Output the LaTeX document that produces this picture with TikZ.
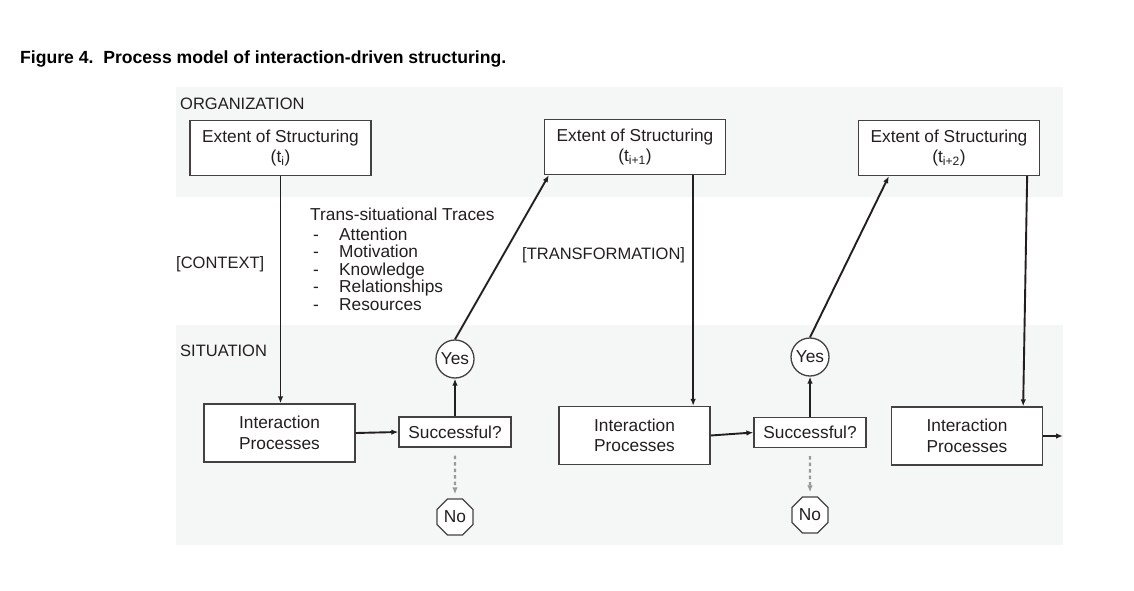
\documentclass[tikz,border=0pt]{standalone}
\usepackage{fontspec}
\setmainfont{Liberation Sans}
\usetikzlibrary{arrows.meta}
\usetikzlibrary{shapes.geometric}

\definecolor{band}{RGB}{245,246,246}
\definecolor{ink}{RGB}{35,31,32}

\tikzset{
  txt/.style={font=\fontsize{17.3}{20.5}\selectfont, text=ink, inner sep=0pt},
  lbl/.style={txt, anchor=base west},
  layer/.style={lbl, font=\fontsize{16.5}{20}\selectfont},
  box/.style={txt, draw=ink!85, line width=1.3pt, fill=white, align=center},
  esbox/.style={box, minimum width=181pt, minimum height=55pt},
  ipbox/.style={box, minimum width=151pt, minimum height=58pt},
  okbox/.style={box, minimum width=112pt, minimum height=30pt},
  yesnode/.style={box, circle, minimum size=38pt},
  nonode/.style={box, regular polygon, regular polygon sides=8, minimum size=39pt},
  flow/.style={->, draw=ink, line width=1.9pt},
  fail/.style={->, draw=black!40, line width=2.2pt, dash pattern=on 3.5pt off 3pt}
}

\begin{document}
\begin{tikzpicture}[x=1pt,y=-1pt,>={Latex[length=7pt,width=5.5pt]}]

% canvas and layer bands
\useasboundingbox (0,0) rectangle (1134,591);
\fill[white] (0,0) rectangle (1134,591);
\fill[band] (176,87) rectangle (1063,197);
\fill[band] (176,325) rectangle (1063,545);

% caption
\node[lbl, font=\fontsize{17.6}{20}\selectfont\bfseries, text=black] (title) at (20,64)
  {Figure 4.\ \ Process model of interaction-driven structuring.};

% layer labels
\node[layer] (org) at (180,110) {ORGANIZATION};
\node[layer] (ctx) at (176,268) {[CONTEXT]};
\node[layer] (sit) at (180,356) {SITUATION};
\node[layer] (trf) at (522,259) {[TRANSFORMATION]};

% trans-situational traces
\node[lbl] (traces) at (310,220) {Trans-situational Traces};
\foreach \w [count=\k] in {Attention,Motivation,Knowledge,Relationships,Resources} {
  \node[lbl] (dash\k) at (313,222.5+17.5*\k) {-};
  \node[lbl] (trace\k) at (339,222.5+17.5*\k) {\w};
}

% organization level
\node[esbox] (es1) at (280.5,148) {Extent of Structuring\\(t\textsubscript{i})};
\node[esbox] (es2) at (635,147) {Extent of Structuring\\(t\textsubscript{i+1})};
\node[esbox] (es3) at (949,148) {Extent of Structuring\\(t\textsubscript{i+2})};

% situation level
\node[ipbox] (ip1) at (279.5,433) {Interaction\\Processes};
\node[ipbox] (ip2) at (634.5,435.5) {Interaction\\Processes};
\node[ipbox] (ip3) at (967,436) {Interaction\\Processes};

\node[okbox] (ok1) at (455,432) {Successful?};
\node[okbox] (ok2) at (810,432.5) {Successful?};

\node[yesnode] (yes1) at (455,359) {Yes};
\node[yesnode] (yes2) at (810,357) {Yes};
\node[nonode] (no1) at (455,517) {No};
\node[nonode] (no2) at (810,515) {No};

\coordinate (out) at (1063,436);

% structuring feeds interaction
\draw[flow] (es1.south) -- (es1.south |- ip1.north);
\draw[flow] ([xshift=-33pt]es2.south east) -- ([xshift=-33pt]es2.south east |- ip2.north);
\draw[flow] ([xshift=-13pt]es3.south east) -- ([xshift=-20pt]ip3.north east);

% interaction outcome
\draw[flow] (ip1.east) -- (ok1.west);
\draw[flow] (ip2.east) -- (ok2.west);
\draw[flow] (ip3.east) -- (out);
\draw[flow] (ok1.north) -- (yes1.south);
\draw[flow] (ok2.north) -- (yes2.south);
\draw[fail] (ok1.south) ++(0,8) -- ([yshift=4pt]no1.north);
\draw[fail] (ok2.south) ++(0,8) -- ([yshift=4pt]no2.north);

% transformation
\draw[flow] (yes1.north) -- ([xshift=5pt]es2.south west);
\draw[flow] (yes2.north) -- ([xshift=31pt]es3.south west);

\end{tikzpicture}
\end{document}
